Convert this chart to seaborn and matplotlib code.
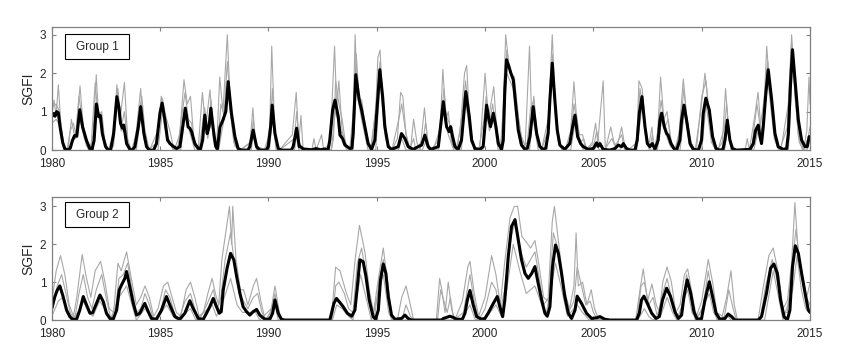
import matplotlib
matplotlib.use("Agg")
import matplotlib.pyplot as plt
from matplotlib.patches import Rectangle
import seaborn as sns

# ---- data: (decimal year, SGFI) vertices ----
# Group 1, group mean (black)
G1_MEAN = [
    (1980.0, 0.87), (1980.08, 0.95), (1980.15, 0.88), (1980.22, 1.0), (1980.3, 0.97), (1980.38, 0.6),
    (1980.5, 0.2), (1980.6, 0.03), (1980.75, 0.0), (1980.85, 0.05), (1980.95, 0.25), (1981.05, 0.38),
    (1981.15, 0.36), (1981.29, 1.05), (1981.42, 0.6), (1981.6, 0.25), (1981.75, 0.04), (1981.85, 0.0),
    (1981.95, 0.25), (1982.06, 1.2), (1982.16, 0.87), (1982.24, 0.9), (1982.33, 0.43), (1982.48, 0.09),
    (1982.6, 0.0), (1982.72, 0.02), (1982.85, 0.43), (1983.0, 1.39), (1983.1, 1.1), (1983.17, 0.7),
    (1983.26, 0.57), (1983.32, 0.65), (1983.45, 0.17), (1983.6, 0.02), (1983.7, 0.0), (1983.83, 0.08),
    (1983.99, 0.6), (1984.1, 1.13), (1984.25, 0.43), (1984.37, 0.09), (1984.5, 0.0), (1984.7, 0.0),
    (1984.83, 0.17), (1984.99, 0.96), (1985.09, 1.22), (1985.22, 0.78), (1985.34, 0.26), (1985.45, 0.17),
    (1985.6, 0.1), (1985.76, 0.04), (1985.91, 0.09), (1986.06, 0.7), (1986.16, 1.09), (1986.29, 0.6),
    (1986.37, 0.57), (1986.45, 0.48), (1986.6, 0.17), (1986.76, 0.04), (1986.85, 0.0), (1986.96, 0.26),
    (1987.06, 0.91), (1987.17, 0.43), (1987.26, 0.61), (1987.34, 1.09), (1987.45, 0.55), (1987.56, 0.1),
    (1987.64, 0.03), (1987.76, 0.6), (1987.91, 0.8), (1988.03, 1.0), (1988.14, 1.78), (1988.29, 0.96),
    (1988.45, 0.35), (1988.6, 0.04), (1988.76, 0.0), (1989.05, 0.0), (1989.14, 0.09), (1989.29, 0.52),
    (1989.45, 0.09), (1989.6, 0.0), (1989.9, 0.0), (1989.99, 0.09), (1990.1, 0.61), (1990.17, 1.17),
    (1990.3, 0.43), (1990.45, 0.04), (1990.6, 0.0), (1991.05, 0.0), (1991.14, 0.09), (1991.3, 0.57),
    (1991.42, 0.09), (1991.5, 0.08), (1991.6, 0.03), (1992.0, 0.01), (1992.2, 0.04), (1992.4, 0.01),
    (1992.6, 0.03), (1992.75, 0.0), (1992.83, 0.26), (1992.96, 1.04), (1993.07, 1.3), (1993.22, 0.87),
    (1993.3, 0.39), (1993.42, 0.3), (1993.53, 0.13), (1993.76, 0.04), (1993.85, 0.05), (1993.91, 0.43),
    (1994.03, 1.96), (1994.19, 1.3), (1994.3, 1.04), (1994.45, 0.61), (1994.6, 0.17), (1994.76, 0.02),
    (1994.91, 0.26), (1995.04, 1.3), (1995.14, 2.09), (1995.27, 1.39), (1995.37, 0.61), (1995.53, 0.09),
    (1995.68, 0.02), (1995.99, 0.09), (1996.14, 0.43), (1996.3, 0.3), (1996.45, 0.09), (1996.68, 0.02),
    (1996.91, 0.09), (1997.07, 0.13), (1997.22, 0.39), (1997.37, 0.09), (1997.5, 0.02), (1997.84, 0.09),
    (1997.94, 0.61), (1998.07, 1.26), (1998.22, 0.61), (1998.34, 0.48), (1998.41, 0.61), (1998.5, 0.35),
    (1998.61, 0.09), (1998.76, 0.02), (1998.91, 0.26), (1999.02, 0.96), (1999.11, 1.52), (1999.27, 0.87),
    (1999.38, 0.26), (1999.53, 0.04), (1999.76, 0.02), (1999.91, 0.09), (1999.99, 0.61), (2000.07, 1.17),
    (2000.18, 0.78), (2000.25, 0.61), (2000.38, 0.96), (2000.5, 0.61), (2000.61, 0.17), (2000.76, 0.02),
    (2000.84, 0.26), (2000.91, 1.57), (2000.99, 2.35), (2001.1, 2.17), (2001.19, 2.0), (2001.3, 1.83),
    (2001.42, 1.13), (2001.53, 0.52), (2001.68, 0.13), (2001.84, 0.02), (2001.95, 0.05), (2002.07, 0.35),
    (2002.22, 1.13), (2002.38, 0.43), (2002.53, 0.09), (2002.68, 0.02), (2002.8, 0.05), (2002.91, 0.43),
    (2002.99, 1.3), (2003.1, 2.26), (2003.22, 1.3), (2003.33, 0.52), (2003.45, 0.13), (2003.68, 0.02),
    (2003.91, 0.17), (2004.04, 0.61), (2004.15, 0.91), (2004.27, 0.35), (2004.41, 0.17), (2004.53, 0.09),
    (2004.76, 0.02), (2004.99, 0.04), (2005.15, 0.19), (2005.22, 0.1), (2005.3, 0.17), (2005.45, 0.02),
    (2005.76, 0.0), (2005.99, 0.04), (2006.15, 0.13), (2006.3, 0.09), (2006.38, 0.17), (2006.53, 0.04),
    (2006.7, 0.0), (2006.92, 0.0), (2007.02, 0.26), (2007.12, 0.96), (2007.24, 1.39), (2007.38, 0.61),
    (2007.49, 0.17), (2007.61, 0.09), (2007.72, 0.17), (2007.84, 0.02), (2007.99, 0.26), (2008.07, 0.78),
    (2008.15, 0.96), (2008.27, 0.61), (2008.38, 0.43), (2008.45, 0.39), (2008.58, 0.17), (2008.72, 0.04),
    (2008.84, 0.0), (2008.99, 0.26), (2009.07, 0.78), (2009.18, 1.17), (2009.3, 0.78), (2009.46, 0.17),
    (2009.61, 0.02), (2009.85, 0.0), (2009.99, 0.26), (2010.07, 0.96), (2010.19, 1.35), (2010.35, 1.04),
    (2010.5, 0.35), (2010.66, 0.04), (2010.84, 0.0), (2010.98, 0.02), (2011.07, 0.26), (2011.18, 0.78),
    (2011.3, 0.26), (2011.42, 0.04), (2011.61, 0.0), (2012.23, 0.02), (2012.38, 0.17), (2012.49, 0.52),
    (2012.61, 0.65), (2012.69, 0.35), (2012.76, 0.17), (2012.84, 0.61), (2012.96, 1.48), (2013.07, 2.09),
    (2013.23, 1.3), (2013.38, 0.43), (2013.53, 0.09), (2013.76, 0.02), (2013.92, 0.04), (2014.0, 0.43),
    (2014.1, 1.74), (2014.19, 2.61), (2014.32, 1.74), (2014.46, 0.78), (2014.61, 0.26), (2014.77, 0.09),
    (2014.87, 0.09), (2014.96, 0.35), (2015.0, 0.35),
]

# Group 1, individual sites (grey)
G1_SITE_A = [
    (1980.0, 0.9), (1980.1, 1.3), (1980.2, 0.9), (1980.3, 1.7), (1980.4, 0.8), (1980.55, 0.1), (1980.75, 0.0),
    (1980.9, 0.8), (1981.0, 0.5), (1981.1, 0.3), (1981.3, 1.67), (1981.45, 0.6), (1981.6, 0.1), (1981.75, 0.0),
    (1981.9, 0.4), (1982.05, 1.96), (1982.15, 0.9), (1982.3, 1.0), (1982.45, 0.2), (1982.65, 0.0),
    (1982.85, 0.3), (1983.0, 1.7), (1983.15, 0.8), (1983.35, 1.76), (1983.5, 0.3), (1983.65, 0.0),
    (1983.85, 0.2), (1984.1, 1.6), (1984.25, 0.3), (1984.45, 0.0), (1984.85, 0.2), (1985.05, 1.4),
    (1985.2, 0.6), (1985.45, 0.2), (1985.65, 0.0), (1985.9, 0.4), (1986.1, 1.83), (1986.25, 1.2),
    (1986.4, 1.4), (1986.55, 0.3), (1986.75, 0.0), (1986.95, 1.5), (1987.1, 0.6), (1987.3, 1.57),
    (1987.45, 0.3), (1987.6, 0.0), (1987.75, 1.9), (1987.9, 1.0), (1988.1, 3.0), (1988.25, 1.0),
    (1988.45, 0.1), (1988.7, 0.0), (1989.15, 0.2), (1989.28, 1.1), (1989.4, 0.1), (1989.8, 0.0),
    (1990.05, 0.4), (1990.15, 2.7), (1990.3, 0.3), (1990.5, 0.0), (1991.1, 0.4), (1991.28, 1.5),
    (1991.4, 0.2), (1991.5, 0.9), (1991.6, 0.0), (1992.0, 0.0), (1992.1, 0.3), (1992.2, 0.0),
    (1992.45, 0.4), (1992.55, 0.0), (1992.85, 0.2), (1993.05, 2.7), (1993.15, 1.1), (1993.25, 1.8),
    (1993.4, 0.5), (1993.6, 0.1), (1993.8, 0.0), (1993.9, 0.6), (1994.0, 3.0), (1994.1, 1.4),
    (1994.3, 1.3), (1994.5, 0.5), (1994.7, 0.0), (1994.95, 1.0), (1995.05, 2.4), (1995.15, 2.6),
    (1995.3, 1.0), (1995.5, 0.1), (1995.7, 0.0), (1995.95, 0.3), (1996.1, 1.5), (1996.2, 1.4),
    (1996.35, 0.4), (1996.55, 0.0), (1996.7, 0.8), (1996.85, 0.2), (1997.0, 0.0), (1997.2, 1.1),
    (1997.35, 0.2), (1997.5, 0.0), (1997.9, 0.3), (1998.05, 2.1), (1998.2, 0.8), (1998.3, 1.0),
    (1998.45, 0.2), (1998.65, 0.0), (1998.85, 0.5), (1999.05, 2.0), (1999.15, 2.2), (1999.3, 0.6),
    (1999.5, 0.0), (1999.75, 0.0), (2000.0, 2.0), (2000.15, 0.8), (2000.4, 1.65), (2000.55, 0.4),
    (2000.7, 0.0), (2000.8, 0.5), (2000.95, 3.0), (2001.1, 2.2), (2001.3, 1.8), (2001.45, 1.2),
    (2001.65, 0.4), (2001.85, 0.1), (2002.05, 2.7), (2002.15, 0.8), (2002.25, 1.4), (2002.4, 0.4),
    (2002.6, 0.0), (2002.9, 0.5), (2003.1, 3.0), (2003.25, 1.0), (2003.45, 0.1), (2003.7, 0.0),
    (2003.95, 0.5), (2004.1, 1.78), (2004.2, 1.0), (2004.35, 0.4), (2004.5, 0.4), (2004.65, 0.0),
    (2004.95, 0.2), (2005.1, 0.7), (2005.2, 0.2), (2005.45, 1.8), (2005.55, 0.0), (2005.8, 0.6),
    (2005.95, 0.2), (2006.1, 0.1), (2006.3, 0.6), (2006.45, 0.1), (2006.6, 0.0), (2007.0, 0.2),
    (2007.1, 1.8), (2007.25, 1.6), (2007.4, 0.6), (2007.55, 0.1), (2007.7, 0.6), (2007.8, 0.0),
    (2007.95, 0.3), (2008.1, 1.9), (2008.25, 0.8), (2008.4, 1.0), (2008.55, 0.3), (2008.75, 0.0),
    (2008.95, 0.4), (2009.15, 1.85), (2009.3, 0.9), (2009.5, 0.2), (2009.7, 0.0), (2009.95, 1.0),
    (2010.15, 2.0), (2010.3, 1.2), (2010.5, 0.2), (2010.7, 0.0), (2010.95, 0.2), (2011.1, 1.6),
    (2011.25, 0.4), (2011.4, 0.0), (2012.0, 0.0), (2012.1, 0.3), (2012.2, 0.0), (2012.45, 0.9),
    (2012.6, 1.5), (2012.75, 0.4), (2012.85, 0.8), (2013.0, 2.7), (2013.15, 1.5), (2013.4, 0.4),
    (2013.6, 0.0), (2013.95, 0.6), (2014.15, 3.0), (2014.3, 1.6), (2014.5, 0.4), (2014.7, 0.0),
    (2014.85, 0.5), (2014.95, 1.9), (2015.0, 1.2),
]
G1_SITE_B = [
    (1980.0, 1.1), (1980.2, 1.2), (1980.35, 1.0), (1980.5, 0.2), (1980.7, 0.0), (1980.85, 0.5), (1981.0, 0.7),
    (1981.1, 0.4), (1981.25, 1.4), (1981.4, 0.8), (1981.6, 0.2), (1981.8, 0.0), (1982.0, 1.75), (1982.1, 1.1),
    (1982.25, 0.8), (1982.4, 0.3), (1982.6, 0.0), (1982.9, 0.5), (1983.05, 1.6), (1983.2, 0.6),
    (1983.35, 1.0), (1983.5, 0.2), (1983.7, 0.0), (1983.95, 0.6), (1984.15, 1.4), (1984.3, 0.5),
    (1984.5, 0.0), (1984.9, 0.5), (1985.1, 1.35), (1985.25, 0.9), (1985.45, 0.5), (1985.6, 0.1),
    (1985.8, 0.0), (1986.0, 0.9), (1986.15, 1.5), (1986.3, 0.8), (1986.45, 0.7), (1986.6, 0.1),
    (1986.8, 0.0), (1987.05, 1.1), (1987.2, 0.5), (1987.35, 1.3), (1987.5, 0.2), (1987.65, 0.0),
    (1987.8, 1.2), (1987.95, 0.9), (1988.1, 2.3), (1988.3, 0.8), (1988.5, 0.1), (1988.7, 0.0),
    (1989.2, 0.2), (1989.3, 0.8), (1989.45, 0.1), (1989.9, 0.0), (1990.1, 0.8), (1990.18, 1.6),
    (1990.3, 0.4), (1990.5, 0.0), (1991.2, 0.3), (1991.3, 1.0), (1991.42, 0.2), (1991.6, 0.0),
    (1992.9, 0.0), (1993.0, 0.3), (1993.1, 1.8), (1993.25, 1.2), (1993.4, 0.8), (1993.55, 0.2),
    (1993.75, 0.0), (1993.95, 1.2), (1994.05, 2.5), (1994.2, 1.2), (1994.35, 1.0), (1994.55, 0.3),
    (1994.75, 0.0), (1995.0, 1.4), (1995.15, 2.3), (1995.3, 1.2), (1995.5, 0.2), (1995.7, 0.0),
    (1996.05, 0.9), (1996.15, 1.2), (1996.3, 0.6), (1996.5, 0.0), (1996.7, 0.3), (1996.8, 0.0),
    (1997.15, 0.3), (1997.25, 0.7), (1997.4, 0.1), (1997.6, 0.0), (1997.95, 0.6), (1998.1, 1.6),
    (1998.2, 0.9), (1998.35, 0.7), (1998.5, 0.1), (1998.7, 0.0), (1998.95, 1.0), (1999.1, 1.8),
    (1999.25, 0.9), (1999.45, 0.1), (1999.7, 0.0), (1999.95, 0.8), (2000.05, 1.4), (2000.2, 0.7),
    (2000.35, 1.2), (2000.5, 0.5), (2000.7, 0.0), (2000.85, 1.2), (2001.0, 2.6), (2001.15, 2.0),
    (2001.35, 1.9), (2001.55, 0.8), (2001.75, 0.1), (2001.95, 0.2), (2002.1, 1.1), (2002.25, 1.3),
    (2002.4, 0.3), (2002.6, 0.0), (2002.95, 0.9), (2003.1, 2.5), (2003.25, 0.8), (2003.45, 0.1),
    (2003.7, 0.0), (2003.95, 0.3), (2004.1, 1.2), (2004.25, 0.7), (2004.4, 0.2), (2004.55, 0.3),
    (2004.7, 0.0), (2005.05, 0.2), (2005.15, 0.5), (2005.3, 0.1), (2005.5, 0.0), (2005.85, 0.3),
    (2006.0, 0.1), (2006.3, 0.4), (2006.45, 0.0), (2006.9, 0.0), (2007.0, 0.3), (2007.15, 1.6),
    (2007.3, 1.1), (2007.45, 0.3), (2007.6, 0.0), (2007.72, 0.4), (2007.82, 0.0), (2008.0, 0.6),
    (2008.12, 1.3), (2008.3, 0.6), (2008.45, 0.8), (2008.6, 0.2), (2008.8, 0.0), (2009.0, 0.6),
    (2009.18, 1.6), (2009.35, 0.6), (2009.55, 0.1), (2009.75, 0.0), (2010.0, 1.4), (2010.2, 1.8),
    (2010.35, 0.8), (2010.55, 0.1), (2010.75, 0.0), (2011.05, 0.6), (2011.15, 1.2), (2011.3, 0.2),
    (2011.45, 0.0), (2012.3, 0.0), (2012.4, 0.5), (2012.55, 1.2), (2012.7, 0.6), (2012.85, 1.2),
    (2013.05, 2.3), (2013.2, 1.2), (2013.45, 0.2), (2013.65, 0.0), (2014.0, 1.2), (2014.15, 2.8),
    (2014.3, 1.4), (2014.5, 0.2), (2014.7, 0.0), (2014.9, 0.3), (2015.0, 0.6),
]
G1_SITE_C = [
    (1980.0, 0.7), (1980.2, 0.8), (1980.4, 0.6), (1980.6, 0.0), (1980.8, 0.0), (1980.9, 0.2), (1981.05, 0.3),
    (1981.3, 0.8), (1981.5, 0.3), (1981.7, 0.0), (1981.9, 0.0), (1982.05, 1.0), (1982.25, 0.7), (1982.45, 0.1),
    (1982.65, 0.0), (1982.85, 0.1), (1983.0, 1.2), (1983.2, 0.5), (1983.4, 0.5), (1983.6, 0.0),
    (1983.9, 0.0), (1984.1, 0.9), (1984.3, 0.2), (1984.5, 0.0), (1984.9, 0.0), (1985.1, 1.0),
    (1985.3, 0.4), (1985.6, 0.0), (1985.95, 0.0), (1986.15, 0.9), (1986.35, 0.5), (1986.6, 0.0),
    (1986.9, 0.0), (1987.05, 0.7), (1987.2, 0.3), (1987.35, 0.9), (1987.6, 0.0), (1987.7, 0.0),
    (1987.85, 0.5), (1988.15, 1.4), (1988.4, 0.2), (1988.6, 0.0), (1989.2, 0.0), (1989.3, 0.4),
    (1989.45, 0.0), (1990.05, 0.0), (1990.18, 0.9), (1990.35, 0.0), (1991.2, 0.0), (1991.3, 0.4),
    (1991.4, 0.0), (1992.9, 0.0), (1993.08, 1.0), (1993.3, 0.6), (1993.6, 0.0), (1993.9, 0.0),
    (1994.05, 1.6), (1994.3, 0.8), (1994.6, 0.0), (1994.95, 0.0), (1995.15, 1.8), (1995.4, 0.3),
    (1995.6, 0.0), (1996.0, 0.0), (1996.15, 0.3), (1996.35, 0.0), (1997.1, 0.0), (1997.25, 0.2),
    (1997.4, 0.0), (1997.85, 0.0), (1998.05, 1.0), (1998.3, 0.4), (1998.55, 0.0), (1998.9, 0.0),
    (1999.1, 1.3), (1999.35, 0.2), (1999.6, 0.0), (1999.9, 0.0), (2000.05, 1.0), (2000.2, 0.5),
    (2000.4, 0.8), (2000.6, 0.0), (2000.8, 0.0), (2001.0, 2.0), (2001.3, 1.6), (2001.6, 0.2),
    (2001.8, 0.0), (2002.05, 0.0), (2002.2, 0.9), (2002.45, 0.0), (2002.85, 0.0), (2003.1, 2.0),
    (2003.35, 0.3), (2003.55, 0.0), (2003.95, 0.0), (2004.15, 0.7), (2004.35, 0.2), (2004.55, 0.0),
    (2005.0, 0.0), (2005.15, 0.1), (2005.3, 0.0), (2006.2, 0.0), (2006.35, 0.1), (2006.5, 0.0),
    (2007.0, 0.0), (2007.25, 1.2), (2007.45, 0.2), (2007.6, 0.0), (2007.95, 0.0), (2008.15, 0.8),
    (2008.35, 0.4), (2008.55, 0.1), (2008.75, 0.0), (2009.0, 0.0), (2009.2, 1.0), (2009.45, 0.1),
    (2009.65, 0.0), (2010.0, 0.0), (2010.2, 1.2), (2010.45, 0.2), (2010.65, 0.0), (2011.05, 0.0),
    (2011.2, 0.6), (2011.35, 0.0), (2012.4, 0.0), (2012.6, 0.5), (2012.75, 0.2), (2013.05, 1.8),
    (2013.35, 0.3), (2013.55, 0.0), (2014.0, 0.0), (2014.2, 2.4), (2014.45, 0.4), (2014.65, 0.0),
    (2014.85, 0.0), (2014.95, 0.2), (2015.0, 0.3),
]

# Group 2, group mean (black)
G2_MEAN = [
    (1980.0, 0.31), (1980.14, 0.62), (1980.25, 0.79), (1980.37, 0.9), (1980.52, 0.62), (1980.68, 0.26),
    (1980.83, 0.09), (1980.95, 0.02), (1981.14, 0.02), (1981.29, 0.26), (1981.45, 0.62), (1981.6, 0.4),
    (1981.76, 0.18), (1981.88, 0.19), (1982.03, 0.4), (1982.22, 0.66), (1982.37, 0.49), (1982.52, 0.18),
    (1982.68, 0.04), (1982.83, 0.02), (1982.99, 0.26), (1983.11, 0.79), (1983.22, 0.93), (1983.37, 1.1),
    (1983.45, 1.28), (1983.6, 0.88), (1983.76, 0.44), (1983.91, 0.13), (1984.06, 0.18), (1984.29, 0.44),
    (1984.45, 0.22), (1984.6, 0.04), (1984.83, 0.02), (1985.06, 0.26), (1985.29, 0.62), (1985.48, 0.35),
    (1985.68, 0.09), (1985.91, 0.02), (1986.14, 0.18), (1986.37, 0.51), (1986.52, 0.31), (1986.76, 0.04),
    (1986.99, 0.02), (1987.14, 0.18), (1987.29, 0.35), (1987.45, 0.57), (1987.6, 0.35), (1987.73, 0.18),
    (1987.82, 0.22), (1987.91, 0.79), (1988.09, 1.37), (1988.25, 1.76), (1988.4, 1.59), (1988.53, 1.15),
    (1988.68, 0.71), (1988.83, 0.35), (1988.99, 0.22), (1989.14, 0.13), (1989.29, 0.22), (1989.45, 0.28),
    (1989.6, 0.13), (1989.83, 0.02), (1990.06, 0.02), (1990.19, 0.18), (1990.3, 0.53), (1990.45, 0.18),
    (1990.6, 0.02), (1990.75, 0.0), (1992.83, 0.0), (1992.91, 0.18), (1993.02, 0.44), (1993.14, 0.57),
    (1993.3, 0.46), (1993.45, 0.35), (1993.64, 0.18), (1993.84, 0.1), (1993.99, 0.26), (1994.1, 0.88),
    (1994.22, 1.59), (1994.37, 1.54), (1994.5, 1.15), (1994.65, 0.53), (1994.83, 0.09), (1994.94, 0.02),
    (1995.07, 0.26), (1995.17, 1.06), (1995.3, 1.48), (1995.42, 1.23), (1995.53, 0.62), (1995.68, 0.13),
    (1995.84, 0.02), (1996.14, 0.04), (1996.3, 0.13), (1996.45, 0.04), (1996.6, 0.0), (1997.99, 0.0),
    (1998.07, 0.04), (1998.22, 0.07), (1998.37, 0.1), (1998.53, 0.07), (1998.68, 0.02), (1998.95, 0.02),
    (1999.07, 0.18), (1999.18, 0.53), (1999.3, 0.78), (1999.45, 0.4), (1999.61, 0.09), (1999.84, 0.02),
    (1999.99, 0.04), (2000.14, 0.18), (2000.38, 0.44), (2000.56, 0.62), (2000.68, 0.35), (2000.81, 0.09),
    (2000.91, 0.53), (2001.07, 1.68), (2001.22, 2.47), (2001.38, 2.65), (2001.53, 2.12), (2001.68, 1.59),
    (2001.84, 1.23), (2001.99, 1.1), (2002.15, 1.23), (2002.3, 1.41), (2002.45, 0.97), (2002.61, 0.53),
    (2002.76, 0.18), (2002.87, 0.1), (2002.99, 0.35), (2003.11, 1.41), (2003.25, 1.98), (2003.38, 1.76),
    (2003.53, 1.23), (2003.68, 0.62), (2003.84, 0.18), (2003.99, 0.04), (2004.15, 0.26), (2004.25, 0.63),
    (2004.45, 0.44), (2004.68, 0.18), (2004.92, 0.04), (2005.15, 0.06), (2005.3, 0.09), (2005.53, 0.02),
    (2005.76, 0.0), (2006.99, 0.0), (2007.12, 0.18), (2007.22, 0.53), (2007.33, 0.63), (2007.49, 0.44),
    (2007.69, 0.18), (2007.89, 0.04), (2008.04, 0.09), (2008.19, 0.53), (2008.38, 0.84), (2008.56, 0.62),
    (2008.76, 0.22), (2008.92, 0.04), (2009.07, 0.13), (2009.18, 0.62), (2009.33, 1.06), (2009.49, 0.71),
    (2009.64, 0.22), (2009.79, 0.02), (2009.99, 0.04), (2010.15, 0.53), (2010.35, 1.01), (2010.5, 0.62),
    (2010.66, 0.18), (2010.84, 0.02), (2011.07, 0.04), (2011.22, 0.16), (2011.38, 0.09), (2011.53, 0.0),
    (2012.61, 0.0), (2012.76, 0.09), (2012.99, 0.71), (2013.18, 1.37), (2013.33, 1.48), (2013.49, 1.23),
    (2013.64, 0.53), (2013.8, 0.09), (2013.95, 0.0), (2014.07, 0.26), (2014.19, 1.41), (2014.32, 1.96),
    (2014.46, 1.76), (2014.61, 1.23), (2014.77, 0.71), (2014.92, 0.26), (2015.0, 0.2),
]

# Group 2, individual sites (grey)
G2_SITE_A = [
    (1980.0, 0.5), (1980.2, 1.3), (1980.4, 1.7), (1980.6, 1.2), (1980.8, 0.4), (1981.0, 0.1), (1981.15, 0.6),
    (1981.4, 1.73), (1981.6, 1.1), (1981.8, 0.6), (1982.0, 1.3), (1982.25, 1.55), (1982.45, 1.0),
    (1982.65, 0.3), (1982.85, 0.2), (1983.05, 1.5), (1983.2, 1.3), (1983.45, 1.8), (1983.7, 1.0),
    (1983.9, 0.4), (1984.1, 0.6), (1984.3, 0.9), (1984.5, 0.6), (1984.7, 0.1), (1984.9, 0.3),
    (1985.15, 0.9), (1985.35, 1.0), (1985.55, 0.6), (1985.75, 0.2), (1985.95, 0.1), (1986.2, 0.8),
    (1986.4, 1.0), (1986.6, 0.6), (1986.8, 0.1), (1987.0, 0.2), (1987.2, 0.7), (1987.4, 1.1),
    (1987.55, 0.7), (1987.7, 0.4), (1987.85, 1.6), (1988.05, 2.4), (1988.2, 3.0), (1988.3, 2.0),
    (1988.35, 3.0), (1988.5, 1.6), (1988.7, 0.8), (1988.85, 0.8), (1989.05, 0.4), (1989.3, 0.9),
    (1989.45, 1.1), (1989.65, 0.5), (1989.85, 0.0), (1990.1, 0.2), (1990.3, 0.9), (1990.5, 0.2),
    (1990.6, 0.0), (1992.9, 0.0), (1993.1, 1.4), (1993.3, 1.3), (1993.45, 1.0), (1993.6, 0.7),
    (1993.8, 0.4), (1994.0, 1.6), (1994.2, 2.5), (1994.45, 1.8), (1994.65, 0.8), (1994.85, 0.2),
    (1995.05, 1.0), (1995.3, 1.9), (1995.5, 1.0), (1995.7, 0.1), (1995.95, 0.0), (1996.15, 0.6),
    (1996.35, 0.9), (1996.55, 0.4), (1996.7, 0.0), (1997.75, 0.0), (1997.9, 1.1), (1998.0, 0.8),
    (1998.15, 0.2), (1998.3, 1.0), (1998.45, 0.3), (1998.6, 0.0), (1998.95, 0.5), (1999.2, 1.4),
    (1999.3, 1.55), (1999.5, 0.7), (1999.7, 0.1), (2000.0, 0.6), (2000.3, 1.7), (2000.5, 1.2),
    (2000.7, 0.4), (2000.9, 1.5), (2001.15, 2.7), (2001.35, 3.0), (2001.5, 3.0), (2001.7, 2.2),
    (2001.85, 2.1), (2002.1, 1.9), (2002.3, 2.1), (2002.5, 1.4), (2002.7, 0.6), (2002.9, 0.5),
    (2003.1, 2.6), (2003.2, 3.0), (2003.4, 2.0), (2003.65, 0.8), (2003.9, 0.3), (2004.1, 0.9),
    (2004.2, 2.3), (2004.3, 0.9), (2004.5, 1.0), (2004.7, 0.4), (2004.9, 0.8), (2005.05, 0.3),
    (2005.25, 0.0), (2006.95, 0.0), (2007.15, 0.8), (2007.3, 1.35), (2007.5, 0.5), (2007.7, 0.95),
    (2007.9, 0.4), (2008.05, 0.2), (2008.2, 1.0), (2008.4, 1.4), (2008.6, 1.0), (2008.8, 0.2),
    (2009.0, 0.4), (2009.2, 1.2), (2009.35, 1.35), (2009.55, 0.7), (2009.75, 0.1), (2010.0, 0.5),
    (2010.3, 1.6), (2010.5, 1.0), (2010.7, 0.2), (2010.95, 0.1), (2011.15, 0.6), (2011.35, 1.3),
    (2011.5, 0.4), (2011.65, 0.0), (2012.6, 0.0), (2012.85, 0.9), (2013.1, 1.7), (2013.3, 1.9),
    (2013.55, 1.2), (2013.75, 0.3), (2013.95, 0.5), (2014.15, 1.5), (2014.3, 3.1), (2014.45, 1.8),
    (2014.65, 1.2), (2014.85, 0.6), (2015.0, 1.0),
]
G2_SITE_B = [
    (1980.0, 0.2), (1980.25, 0.9), (1980.45, 1.2), (1980.65, 0.7), (1980.85, 0.2), (1981.05, 0.0),
    (1981.25, 0.7), (1981.45, 1.2), (1981.65, 0.6), (1981.85, 0.3), (1982.05, 0.8), (1982.3, 1.2),
    (1982.5, 0.6), (1982.7, 0.1), (1982.9, 0.1), (1983.1, 1.1), (1983.3, 1.2), (1983.5, 1.5),
    (1983.7, 0.8), (1983.9, 0.2), (1984.1, 0.3), (1984.3, 0.7), (1984.5, 0.4), (1984.7, 0.0),
    (1985.0, 0.2), (1985.25, 0.8), (1985.45, 0.6), (1985.65, 0.2), (1985.85, 0.0), (1986.15, 0.5),
    (1986.4, 0.7), (1986.6, 0.3), (1986.8, 0.0), (1987.15, 0.4), (1987.45, 0.8), (1987.65, 0.3),
    (1987.8, 0.6), (1988.0, 1.6), (1988.25, 2.3), (1988.45, 1.4), (1988.65, 0.7), (1988.85, 0.5),
    (1989.05, 0.3), (1989.3, 0.6), (1989.5, 0.7), (1989.7, 0.2), (1989.9, 0.0), (1990.15, 0.3),
    (1990.3, 0.7), (1990.45, 0.1), (1990.6, 0.0), (1992.95, 0.0), (1993.1, 0.9), (1993.25, 1.0),
    (1993.5, 0.7), (1993.7, 0.3), (1993.9, 0.2), (1994.1, 1.5), (1994.3, 1.9), (1994.5, 1.2),
    (1994.7, 0.4), (1994.9, 0.1), (1995.1, 1.0), (1995.3, 1.6), (1995.5, 0.7), (1995.7, 0.0),
    (1996.15, 0.0), (1996.35, 0.4), (1996.55, 0.1), (1996.7, 0.0), (1997.8, 0.0), (1997.95, 0.8),
    (1998.1, 0.5), (1998.25, 0.2), (1998.4, 0.6), (1998.55, 0.0), (1999.0, 0.2), (1999.3, 1.2),
    (1999.5, 0.5), (1999.7, 0.0), (2000.0, 0.3), (2000.3, 1.0), (2000.5, 0.8), (2000.7, 0.2),
    (2000.9, 0.8), (2001.2, 2.2), (2001.4, 2.6), (2001.65, 1.8), (2001.9, 1.4), (2002.1, 1.6),
    (2002.3, 1.8), (2002.5, 1.1), (2002.7, 0.4), (2002.95, 0.6), (2003.15, 2.3), (2003.35, 1.9),
    (2003.6, 0.8), (2003.85, 0.2), (2004.1, 0.5), (2004.25, 1.4), (2004.45, 0.9), (2004.65, 0.4),
    (2004.85, 0.5), (2005.0, 0.2), (2005.2, 0.0), (2007.0, 0.0), (2007.2, 0.9), (2007.35, 1.0),
    (2007.55, 0.4), (2007.75, 0.6), (2007.95, 0.1), (2008.15, 0.6), (2008.4, 1.1), (2008.6, 0.6),
    (2008.8, 0.1), (2009.05, 0.2), (2009.3, 1.2), (2009.5, 0.6), (2009.7, 0.0), (2010.05, 0.3),
    (2010.3, 1.3), (2010.5, 0.6), (2010.7, 0.0), (2011.05, 0.1), (2011.25, 0.8), (2011.45, 0.3),
    (2011.6, 0.0), (2012.7, 0.0), (2012.95, 0.9), (2013.25, 1.6), (2013.5, 1.0), (2013.7, 0.2),
    (2013.95, 0.2), (2014.2, 1.6), (2014.35, 2.4), (2014.55, 1.4), (2014.75, 0.7), (2015.0, 0.4),
]
G2_SITE_C = [
    (1980.0, 0.1), (1980.3, 0.5), (1980.5, 0.6), (1980.7, 0.3), (1980.9, 0.0), (1981.2, 0.2), (1981.45, 0.5),
    (1981.7, 0.2), (1981.9, 0.1), (1982.2, 0.5), (1982.45, 0.3), (1982.7, 0.0), (1983.1, 0.6),
    (1983.45, 0.9), (1983.7, 0.4), (1983.9, 0.0), (1984.3, 0.3), (1984.55, 0.1), (1984.8, 0.0),
    (1985.3, 0.4), (1985.6, 0.1), (1985.8, 0.0), (1986.4, 0.3), (1986.65, 0.0), (1987.4, 0.4),
    (1987.6, 0.1), (1987.85, 0.4), (1988.25, 1.1), (1988.55, 0.4), (1988.8, 0.2), (1989.4, 0.2),
    (1989.6, 0.0), (1990.3, 0.4), (1990.45, 0.0), (1992.95, 0.0), (1993.15, 0.4), (1993.4, 0.3),
    (1993.7, 0.1), (1993.9, 0.0), (1994.25, 1.2), (1994.5, 0.6), (1994.75, 0.0), (1995.3, 1.2),
    (1995.55, 0.2), (1995.7, 0.0), (1998.9, 0.0), (1999.3, 0.4), (1999.55, 0.0), (2000.1, 0.1),
    (2000.5, 0.4), (2000.75, 0.1), (2001.0, 0.8), (2001.3, 2.0), (2001.6, 1.3), (2001.9, 0.7),
    (2002.3, 0.9), (2002.55, 0.5), (2002.8, 0.1), (2003.25, 1.5), (2003.5, 0.9), (2003.8, 0.1),
    (2004.25, 0.4), (2004.5, 0.2), (2004.8, 0.0), (2007.05, 0.0), (2007.35, 0.3), (2007.55, 0.1),
    (2007.75, 0.0), (2008.1, 0.1), (2008.4, 0.6), (2008.65, 0.2), (2008.85, 0.0), (2009.35, 0.8),
    (2009.55, 0.2), (2009.75, 0.0), (2010.35, 0.7), (2010.55, 0.2), (2010.75, 0.0), (2011.2, 0.1),
    (2011.35, 0.0), (2012.9, 0.0), (2013.3, 1.3), (2013.55, 0.6), (2013.75, 0.0), (2014.2, 0.8),
    (2014.4, 1.7), (2014.6, 0.8), (2014.8, 0.3), (2015.0, 0.2),
]

GROUP_LABELS = ['Group 1', 'Group 2']
X_TICKS = [1980, 1985, 1990, 1995, 2000, 2005, 2010, 2015]
Y_TICKS = [0, 1, 2, 3]

sns.set_theme(style='ticks')
plt.rcParams['font.family'] = ['Liberation Sans', 'DejaVu Sans']

AXIS_GREY = '#808080'
SITE_GREY = '#a8a8a8'


def draw_series(ax, pts, color, lw):
    xs, ys = zip(*pts)
    sns.lineplot(x=list(xs), y=list(ys), ax=ax, color=color, linewidth=lw,
                 estimator=None, sort=False)


def style_panel(ax, label, ytop, box_y):
    ax.set_xlim(1980, 2015)
    ax.set_ylim(0, ytop)
    ax.set_xticks(X_TICKS)
    ax.set_yticks(Y_TICKS)
    ax.set_ylabel('SGFI', fontsize=10, labelpad=3)
    ax.set_xlabel('')
    ax.tick_params(direction='in', top=True, right=True, length=3, width=0.8,
                   color=AXIS_GREY, labelsize=8.5)
    ax.tick_params(axis='x', pad=6)
    ax.tick_params(axis='y', pad=4)
    for sp in ax.spines.values():
        sp.set_visible(True)
        sp.set_color(AXIS_GREY)
        sp.set_linewidth(0.9)
    # group label box
    ax.add_patch(Rectangle((0.017, box_y), 0.085, 0.2, transform=ax.transAxes,
                           facecolor='white', edgecolor='black', linewidth=0.8, zorder=5))
    ax.text(0.0595, box_y + 0.1, label, transform=ax.transAxes, ha='center', va='center',
            fontsize=8.5, zorder=6)


fig = plt.figure(figsize=(8.5, 3.6), dpi=100)
ax1 = fig.add_axes([0.061, 0.583, 0.892, 0.342])
ax2 = fig.add_axes([0.061, 0.111, 0.892, 0.342])

for pts in (G1_SITE_A, G1_SITE_B, G1_SITE_C):
    draw_series(ax1, pts, SITE_GREY, 0.8)
draw_series(ax1, G1_MEAN, 'black', 2.2)
style_panel(ax1, GROUP_LABELS[0], 3.2, 0.74)

for pts in (G2_SITE_A, G2_SITE_B, G2_SITE_C):
    draw_series(ax2, pts, SITE_GREY, 0.8)
draw_series(ax2, G2_MEAN, 'black', 2.2)
style_panel(ax2, GROUP_LABELS[1], 3.25, 0.755)

fig.savefig('out.png', dpi=100)
